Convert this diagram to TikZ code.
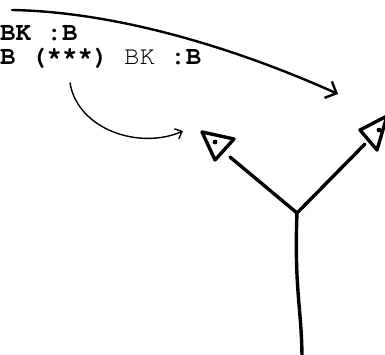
\documentclass[tikz,border=0pt]{standalone}
\usepackage{fontspec}
\setmonofont{texgyrecursor-regular.otf}[BoldFont=texgyrecursor-bold.otf]
\usepackage{tikz}
\usetikzlibrary{arrows.meta}

\begin{document}
\begin{tikzpicture}[x=1pt, y=-1pt, line cap=round, line join=round,
    codeline/.style={anchor=base west, inner sep=0pt, font=\fontsize{25.8}{30}\selectfont\ttfamily},
    limb/.style={line width=3.4pt},
    eye/.style={line width=3.4pt}]
  \useasboundingbox (0,0) rectangle (385,355);
  \clip (0,0) rectangle (385,355);
  % --- code lines ---------------------------------------------------
  \node[codeline] (line1) at (0,41) {\textbf{BK :B}};
  \node[codeline] (line2) at (0,65) {\textbf{B (***)} BK \textbf{:B}};
  % --- arrows -------------------------------------------------------
  \coordinate (topstart) at (12,10);
  \coordinate (topend)   at (338,94);
  \coordinate (starstart) at (70,83);
  \coordinate (starend)   at (183,131);
  \draw[line width=2.4pt, -{Straight Barb[length=9pt, width=18pt]}]
    (topstart) .. controls (120,12) and (240,50) .. (topend);
  \draw[line width=1.4pt, -{Straight Barb[length=6pt, width=11pt]}]
    (starstart) .. controls (78,130) and (140,150) .. (starend);
  % --- the Y --------------------------------------------------------
  \coordinate (jn) at (297,213);
  \draw[limb] (jn) -- (230,157);
  \draw[limb] (jn) -- (365,144);
  \draw[limb] (jn) .. controls (294,290) and (302,310) .. (302,360);
  % left eye
  \draw[eye] (202,132) -- (234,139) -- (215,160) -- cycle;
  \fill (215,142) circle (2.4);
  % right eye (runs off the edge)
  \draw[eye] (360,130) -- (387,116) -- (377,150) -- cycle;
  \fill (379,130) circle (2.4);
\end{tikzpicture}
\end{document}
